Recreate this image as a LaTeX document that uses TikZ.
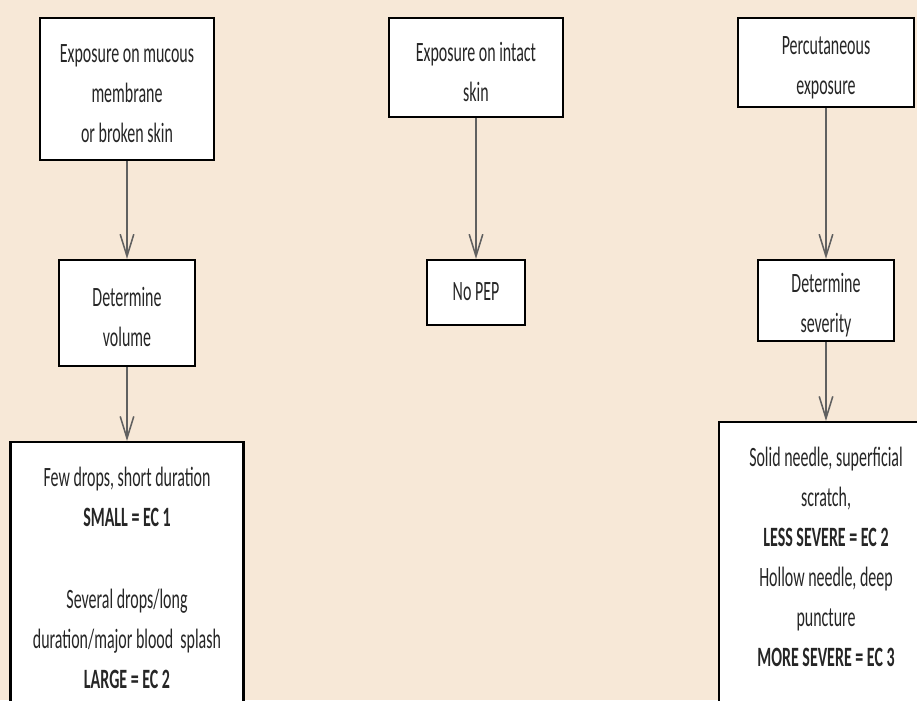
\documentclass[tikz,border=0pt]{standalone}
\usepackage{fontspec}
\setmainfont{Carlito}[FakeStretch=0.57]
\usetikzlibrary{arrows.meta}
\definecolor{bgcream}{RGB}{247,232,215}
\definecolor{arrowgray}{RGB}{96,96,96}
\tikzset{
  box/.style={draw=black, line width=1.6pt, fill=white, align=center,
    inner xsep=4pt, inner ysep=0pt, text=black!85,
    font=\fontsize{19.9pt}{28.45pt}\selectfont},
  bigbox/.style={box, anchor=north, inner ysep=0.4cm},
  link/.style={draw=arrowgray, line width=1.1pt,
    -{Straight Barb[length=0.55cm, width=0.34cm]}}
}
\begin{document}
\begin{tikzpicture}[x=0.025cm, y=-0.025cm]
	\useasboundingbox (0,0) rectangle (917,700);
	\clip (0,0) rectangle (917,700);
	\fill[bgcream] (0,0) rectangle (917,700);
	% mucous membrane branch
	\node[box, minimum width=4.35cm, minimum height=3.55cm] (muc) at (127,89) {\strut Exposure on mucous\\ membrane\\ or broken skin};
	\node[box, minimum width=3.4cm, minimum height=2.65cm] (vol) at (127,313) {\strut Determine\\ volume};
	\node[bigbox, minimum width=5.825cm] (volres) at (127,441) {\strut Few drops, short duration\\ \textbf{SMALL = EC 1}\\[1.05cm] Several drops/long\\ duration/major blood~ splash\\ \textbf{LARGE = EC 2}\\ \strut};
	\draw[link] (muc) -- (vol);
	\draw[link] (vol) -- (volres);
	% intact skin branch
	\node[box, minimum width=4.35cm, minimum height=2.475cm] (intact) at (476,67.5) {\strut Exposure on intact\\ skin};
	\node[box, minimum width=2.45cm, minimum height=1.625cm] (nopep) at (476,292.5) {\strut No PEP};
	\draw[link] (intact) -- (nopep);
	% percutaneous branch
	\node[box, minimum width=4.4cm, minimum height=2.225cm] (perc) at (826,62.5) {\strut Percutaneous\\ exposure};
	\node[box, minimum width=3.4cm, minimum height=2.025cm] (sev) at (826,300.5) {\strut Determine\\ severity};
	\node[bigbox, minimum width=5.35cm] (sevres) at (826,421) {\strut Solid needle, superficial\\ scratch,\\ \textbf{LESS SEVERE = EC 2}\\ Hollow needle, deep\\ puncture\\ \textbf{MORE SEVERE = EC 3}\\ \strut\\ \strut};
	\draw[link] (perc) -- (sev);
	\draw[link] (sev) -- (sevres);
\end{tikzpicture}
\end{document}
